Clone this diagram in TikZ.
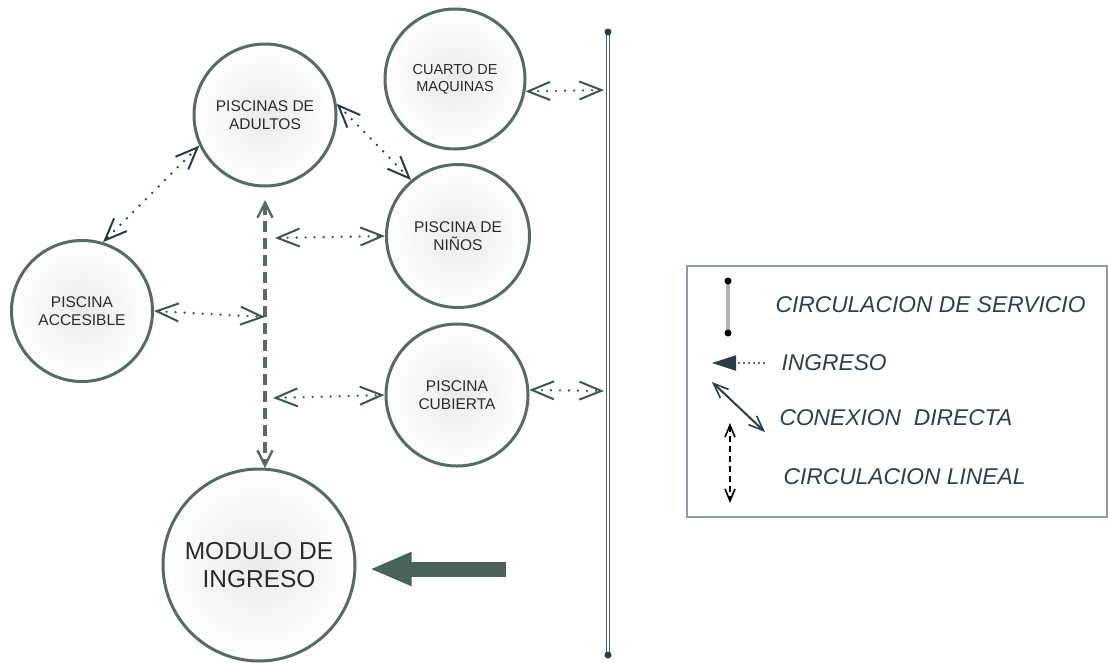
\documentclass[tikz,border=0pt]{standalone}
\usepackage{fontspec}
\setmainfont{Liberation Sans}
\usetikzlibrary{arrows.meta}
\definecolor{circ}{HTML}{566B64}
\definecolor{conn}{HTML}{3F5650}
\definecolor{navy}{HTML}{2B3B48}
\definecolor{txt}{HTML}{2A2A2A}
\definecolor{leg}{HTML}{2F3E4C}
\definecolor{bigarrow}{HTML}{4B625C}
\definecolor{boxc}{HTML}{8D9CA6}
\definecolor{svc}{HTML}{4A5F6E}
\begin{document}
\begin{tikzpicture}[x=1pt,y=-1pt,
  room/.style={circle, draw=circ, line width=3pt, inner color=black!8, outer color=white,
    align=center, text=txt, inner sep=0pt, font=\fontsize{15.5}{17.5}\selectfont},
  dotconn/.style={draw=#1, line width=2.6pt, line cap=round, dash pattern=on 0pt off 9pt,
    {Straight Barb[length=22pt,width=18pt,line width=2pt]}-{Straight Barb[length=22pt,width=18pt,line width=2pt]}},
  dotconn/.default=conn,
  linealconn/.style={draw=circ, line width=4.5pt, dash pattern=on 11pt off 6pt,
    {Straight Barb[length=15pt,width=15pt,line width=2.4pt]}-{Straight Barb[length=15pt,width=15pt,line width=2.4pt]}},
  legtext/.style={anchor=west, text=leg, font=\fontsize{22.8}{25}\selectfont\itshape},
  enddot/.style={circle, fill=#1, inner sep=0pt, minimum size=7pt}
]
\useasboundingbox (0,0) rectangle (1108,662);

% rooms
\node[room, minimum size=142pt] (adultos) at (265,115) {PISCINAS DE\\ADULTOS};
\node[room, minimum size=140pt, font=\fontsize{14.5}{17}\selectfont] (cuarto) at (455,79) {CUARTO DE\\MAQUINAS};
\node[room, minimum size=143pt] (ninos) at (458,236) {PISCINA DE\\NIÑOS};
\node[room, minimum size=141pt] (accesible) at (82,311) {PISCINA\\ACCESIBLE};
\node[room, minimum size=142pt] (cubierta) at (457,395) {PISCINA\\CUBIERTA};
\node[room, minimum size=192pt, font=\fontsize{24.5}{28}\selectfont] (modulo) at (259,565) {MODULO DE\\INGRESO};

% service circulation line
\coordinate (st) at (608,32);
\coordinate (sb) at (608,655);
\draw[draw=svc, line width=1.1pt, double=white, double distance=2.4pt] (st) -- (sb);
\node[enddot=navy] at (st) {};
\node[enddot=navy] at (sb) {};
\coordinate (s1) at (604,90);
\coordinate (s2) at (604,391);

% linear circulation
\coordinate (lt) at (265,200);
\coordinate (lb) at (265,468);
\draw[linealconn] (lt) -- (lb);
\coordinate (j1) at (275,238);
\coordinate (j2) at (265,317);
\coordinate (j3) at (273,398);

% dotted connections
\draw[dotconn=navy] (adultos.205) -- (accesible.73);
\draw[dotconn=navy] (adultos.9) -- (ninos.130);
\draw[dotconn] (j1) -- (ninos.west);
\draw[dotconn] (accesible.east) -- (j2);
\draw[dotconn] (j3) -- (cubierta.west);
\draw[dotconn] (cuarto.-10) -- (s1);
\draw[dotconn] (cubierta.4) -- (s2);

% big entrance arrow
\coordinate (bigstart) at (506,569);
\draw[draw=bigarrow, line width=15pt, -{Triangle[length=42pt,width=31pt]}, shorten >=13pt] (bigstart) -- (modulo.east |- bigstart);

% legend
\node[draw=boxc, line width=1.5pt, anchor=north west, minimum width=420pt, minimum height=251pt, inner sep=0pt] (legend) at (686,265) {};
\coordinate (a1) at (728,281);
\coordinate (a2) at (728,333);
\draw[draw=black!30, line width=3.5pt] (a1) -- (a2);
\node[enddot=black] at (a1) {};
\node[enddot=black] at (a2) {};
\node[legtext] (t1) at (772,305) {CIRCULACION DE SERVICIO};

\coordinate (i1) at (712,363);
\coordinate (i2) at (764,363);
\draw[draw=navy, line width=2.2pt, line cap=round, dash pattern=on 0pt off 5pt, -{Triangle[length=24pt,width=15pt]}] (i2) -- (i1);
\node[legtext] (t2) at (778,363) {INGRESO};

\coordinate (c1) at (712,382);
\coordinate (c2) at (765,432);
\draw[draw=navy, line width=2pt, {Straight Barb[length=15pt,width=12pt,line width=1.6pt]}-{Straight Barb[length=15pt,width=12pt,line width=1.6pt]}] (c1) -- (c2);
\node[legtext] (t3) at (776,418) {CONEXION\ \ DIRECTA};

\coordinate (d1) at (730,423);
\coordinate (d2) at (730,503);
\draw[draw=black, line width=2.4pt, dash pattern=on 6pt off 4pt, {Straight Barb[length=12pt,width=10pt,line width=1.6pt]}-{Straight Barb[length=12pt,width=10pt,line width=1.6pt]}] (d1) -- (d2);
\node[legtext] (t4) at (780,477) {CIRCULACION LINEAL};
\end{tikzpicture}
\end{document}
